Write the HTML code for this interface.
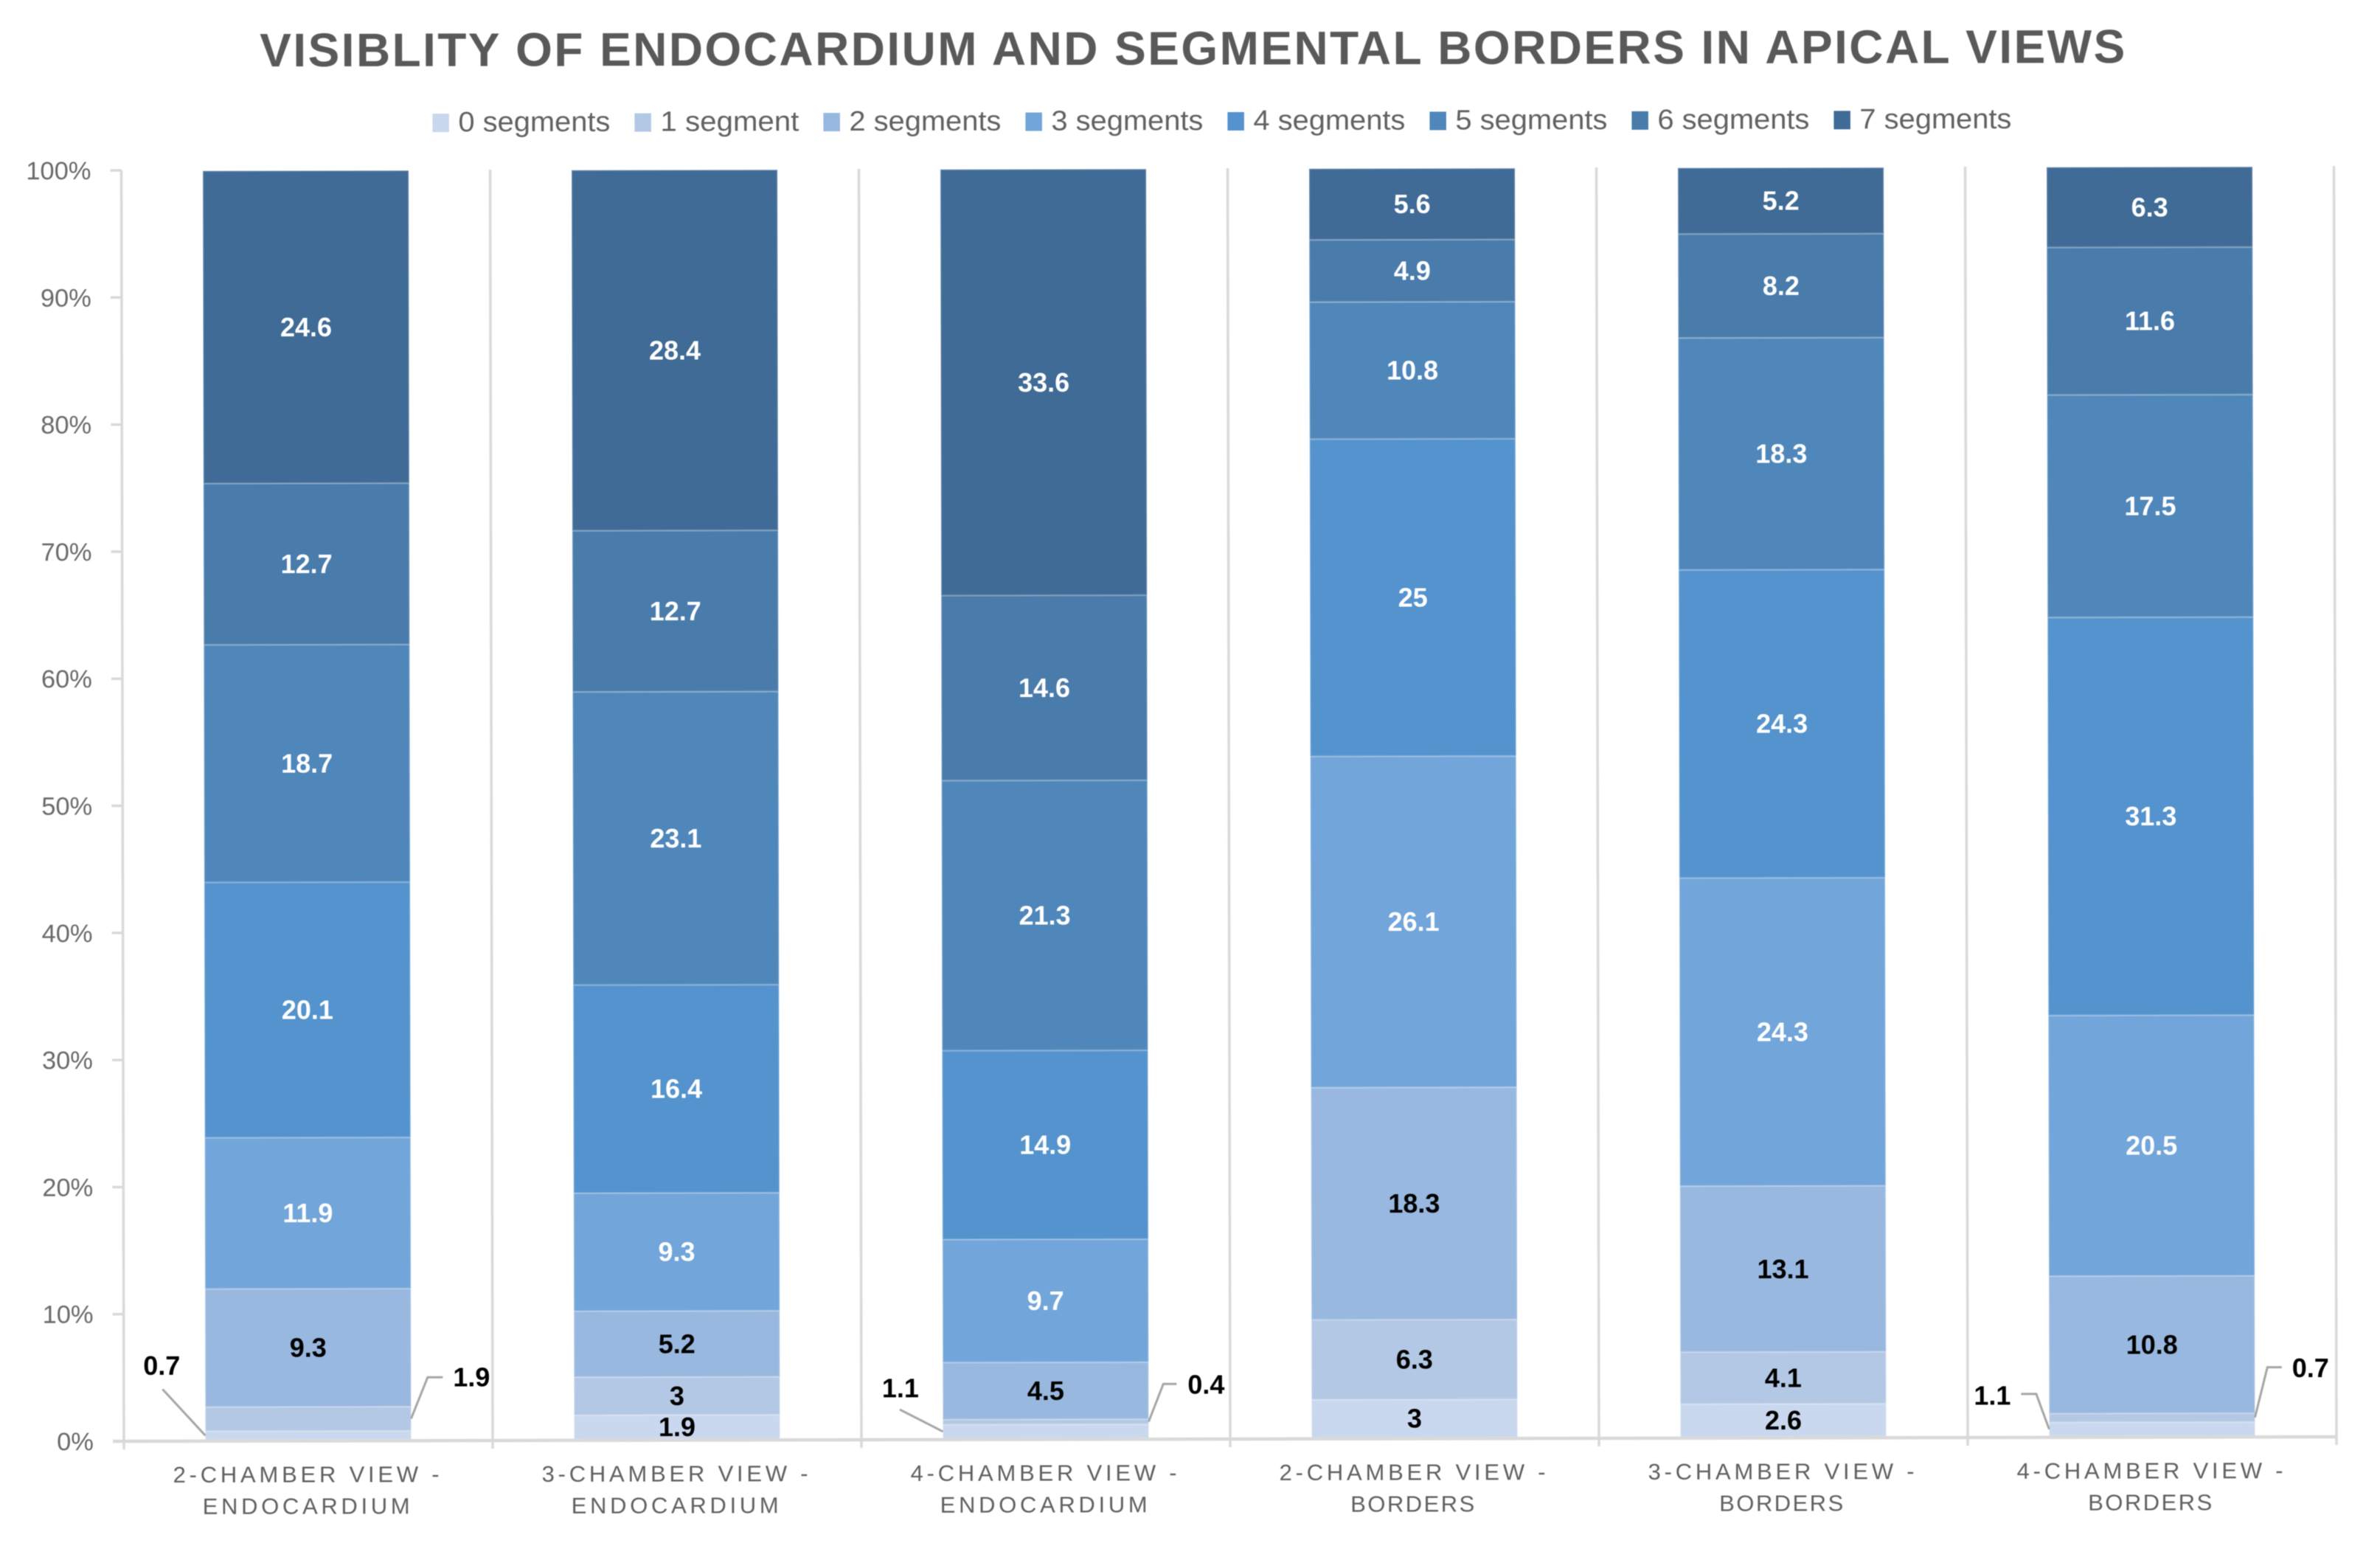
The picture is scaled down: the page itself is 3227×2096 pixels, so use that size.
<!DOCTYPE html>
<html lang="en">
<head>
<meta charset="utf-8">
<title>Visibility of endocardium and segmental borders in apical views</title>
<style>
html,body{margin:0;padding:0;background:#fff;width:3227px;height:2096px;overflow:hidden}
svg{display:block}
text{font-family:"Liberation Sans",sans-serif}
#root{filter:blur(0.6px)}
</style>
</head>
<body>
<svg id="chart" xmlns="http://www.w3.org/2000/svg" width="3227" height="2096" viewBox="0 0 3227 2096">
  <rect width="3227" height="2096" fill="#ffffff"/>
  <g id="root" transform="rotate(-0.115 168 1954)">
    <text x="356" y="90.5" font-size="64" font-weight="700" fill="#595959" textLength="2529" lengthAdjust="spacing">VISIBLITY OF ENDOCARDIUM AND SEGMENTAL BORDERS IN APICAL VIEWS</text>
    <g id="legend"></g>
    <g id="axes"></g>
    <g id="bars"></g>
    <g id="labels"></g>
  </g>
</svg>
<script>
// Chart data
const categoryLine1 = ["2-CHAMBER VIEW -", "3-CHAMBER VIEW -", "4-CHAMBER VIEW -", "2-CHAMBER VIEW -", "3-CHAMBER VIEW -", "4-CHAMBER VIEW -"];
const categoryLine2 = ["ENDOCARDIUM", "ENDOCARDIUM", "ENDOCARDIUM", "BORDERS", "BORDERS", "BORDERS"];
const seriesNames = ["0 segments", "1 segment", "2 segments", "3 segments", "4 segments", "5 segments", "6 segments", "7 segments"];
const segments0 = [0.7, 1.9, 1.1, 3, 2.6, 1.1];
const segments1 = [1.9, 3, 0.4, 6.3, 4.1, 0.7];
const segments2 = [9.3, 5.2, 4.5, 18.3, 13.1, 10.8];
const segments3 = [11.9, 9.3, 9.7, 26.1, 24.3, 20.5];
const segments4 = [20.1, 16.4, 14.9, 25, 24.3, 31.3];
const segments5 = [18.7, 23.1, 21.3, 10.8, 18.3, 17.5];
const segments6 = [12.7, 12.7, 14.6, 4.9, 8.2, 11.6];
const segments7 = [24.6, 28.4, 33.6, 5.6, 5.2, 6.3];
const tickValues = [0, 10, 20, 30, 40, 50, 60, 70, 80, 90, 100];

// Styling and layout
const allSeries = [segments0, segments1, segments2, segments3, segments4, segments5, segments6, segments7];
const palette = ["#C9D8EE", "#B3C8E5", "#98B8E0", "#72A5D9", "#5493CD", "#4F87BB", "#497BAB", "#3F6B96"];
const darkLabelSeries = 3;
const plot = { x0: 168, yBase: 1954, yTop: 231, barBase: 1952.5, barTop: 232, catWidth: 500, barWidth: 279 };
const callouts = {
  "0-0": { side: -1, elbow: [-58, -63], label: [-59, -95] },
  "0-1": { side: 1, elbow: [22.5, -56], end: [43, -56], label: [82, -56] },
  "2-0": { side: -1, elbow: [-58.5, -30], label: [-57.5, -59] },
  "2-1": { side: 1, elbow: [20, -51], end: [38, -51], label: [78, -50] },
  "5-0": { side: -1, elbow: [-17.5, -48], end: [-38, -48], label: [-77, -46] },
  "5-1": { side: 1, elbow: [17, -68], end: [36.5, -68], label: [75.5, -67] }
};
const NS = "http://www.w3.org/2000/svg";

function yScale(pct) { return plot.yBase - (plot.yBase - plot.yTop) * pct / 100; }
function barY(pct) { return plot.barBase - (plot.barBase - plot.barTop) * pct / 100; }
function xCenter(i) { return plot.x0 + plot.catWidth * (i + 0.5); }
function make(parent, tag, attrs, content) {
  const el = document.createElementNS(NS, tag);
  for (const k in attrs) el.setAttribute(k, attrs[k]);
  if (content !== undefined) el.textContent = content;
  parent.appendChild(el);
  return el;
}

// Legend
const legendG = document.getElementById("legend");
let legendX = 590;
seriesNames.forEach(function (name, s) {
  const textWidth = name.indexOf("segments") >= 0 ? 206 : 188;
  const swatch = make(legendG, "rect", { x: legendX, y: 155, width: 22.5, height: 25, fill: palette[s] });
  
  
  const label = make(legendG, "text", { x: legendX + 35, y: 179, "font-size": 38, fill: "#626262", textLength: textWidth, lengthAdjust: "spacingAndGlyphs" }, name);
  
  
  legendX += 35 + textWidth + 33;
});

// Axes
const axesG = document.getElementById("axes");
categoryLine1.concat([""]).forEach(function (_, i) {
  const x = plot.x0 + plot.catWidth * i;
  const grid = make(axesG, "line", { x1: x, x2: x, y1: plot.yTop, y2: plot.yBase + 11, stroke: "#d9d9d9", "stroke-width": 3.5 });
  
  
});
tickValues.forEach(function (v) {
  const y = yScale(v);
  const tick = make(axesG, "line", { x1: plot.x0 - 15, x2: plot.x0, y1: y, y2: y, stroke: "#d9d9d9", "stroke-width": 3.5 });
  
  
  const label = make(axesG, "text", { x: 127, y: y + 12, "font-size": 34.5, "text-anchor": "end", fill: "#6a6a6a" }, v + "%");
  
  
});
categoryLine1.forEach(function (line, i) {
  const cx = xCenter(i);
  const top = make(axesG, "text", { x: cx - 3, y: plot.yBase + 56, "font-size": 31, "text-anchor": "middle", fill: "#606060", textLength: 361, lengthAdjust: "spacing" }, line);
  
  
  const lower = categoryLine2[i];
  const lowerWidth = lower === "BORDERS" ? 168 : 281;
  const bottom = make(axesG, "text", { x: cx - 3, y: plot.yBase + 99, "font-size": 31, "text-anchor": "middle", fill: "#606060", textLength: lowerWidth, lengthAdjust: "spacing" }, lower);
  
  
});

// Bars and labels
const barsG = document.getElementById("bars");
const labelsG = document.getElementById("labels");
categoryLine1.forEach(function (_, c) {
  const total = allSeries.reduce(function (sum, arr) { return sum + arr[c]; }, 0);
  const left = xCenter(c) - plot.barWidth / 2;
  const right = left + plot.barWidth;
  let cumulative = 0;
  allSeries.forEach(function (arr, s) {
    const startPct = cumulative / total * 100;
    cumulative += arr[c];
    const endPct = cumulative / total * 100;
    const yStart = barY(startPct);
    const yEnd = barY(endPct);
    const bar = make(barsG, "rect", { x: left, y: yEnd, width: plot.barWidth, height: yStart - yEnd, fill: palette[s], stroke: "#ffffff", "stroke-opacity": 0.2, "stroke-width": 2.5 });
    
    

    const midY = (yStart + yEnd) / 2;
    const fill = s < darkLabelSeries ? "#000000" : "#ffffff";
    const callout = callouts[c + "-" + s];
    let lx = xCenter(c);
    let ly = midY;
    if (callout) {
      const ax = callout.side < 0 ? left : right;
      const pts = [[ax, midY], [ax + callout.elbow[0], midY + callout.elbow[1]]];
      if (callout.end) pts.push([ax + callout.end[0], midY + callout.end[1]]);
      const leader = make(labelsG, "polyline", { points: pts.map(function (p) { return p.join(","); }).join(" "), fill: "none", stroke: "#a6a6a6", "stroke-width": 3 });
      
      
      lx = ax + callout.label[0];
      ly = midY + callout.label[1];
    }
    const valueLabel = make(labelsG, "text", { x: lx, y: ly + 12.5, "font-size": 36, "font-weight": 700, "text-anchor": "middle", fill: fill }, String(arr[c]));
    
    
  });
});

// Baseline drawn over the bar feet
const axisLine = make(axesG, "line", { x1: plot.x0 - 15, x2: plot.x0 + plot.catWidth * categoryLine1.length, y1: plot.yBase, y2: plot.yBase, stroke: "#d9d9d9", "stroke-width": 4.5 });


document.getElementById("root").appendChild(axisLine);
document.getElementById("root").appendChild(labelsG);
</script>
</body>
</html>
